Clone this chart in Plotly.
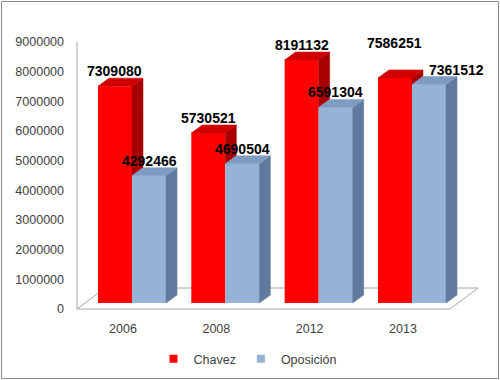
import plotly.graph_objects as go

# ---- data ----
years = ["2006", "2008", "2012", "2013"]
chavez = [7309080, 5730521, 8191132, 7586251]
oposicion = [4292466, 4690504, 6591304, 7361512]
series_names = ["Chavez", "Oposición"]
y_ticks = [0, 1000000, 2000000, 3000000, 4000000, 5000000, 6000000, 7000000, 8000000, 9000000]

# ---- style ----
FRONT = ["#FF0000", "#95B3D7"]
TOP = ["#D00000", "#7E9BC2"]
SIDE = ["#A80000", "#5F7A9E"]
FONT = "Liberation Sans, Arial, sans-serif"
BARGAP = 0.271
HALF = (1 - BARGAP) / 2          # width of one bar in category units
DX = 0.118                        # 3D depth, x (category units)
DY = 0.27e6                       # 3D depth, y (value units)

xs = list(range(len(years)))
values = [chavez, oposicion]

fig = go.Figure()

for s, vals in enumerate(values):
    # front faces
    fig.add_trace(go.Bar(
        x=xs, y=vals, name=series_names[s], marker=dict(color=FRONT[s], line=dict(width=0)),
        showlegend=False, legendgroup=series_names[s], hoverinfo="y",
    ))

for s, vals in enumerate(values):
    tx, ty, sx, sy = [], [], [], []
    for i, v in enumerate(vals):
        xl = i - HALF if s == 0 else i
        xr = xl + HALF
        # top face
        tx += [xl, xl + DX, xr + DX, xr, xl, None]
        ty += [v, v + DY, v + DY, v, v, None]
        # side face (chavez side partly hidden by the oposicion bar in front)
        base = min(v, values[1][i]) if s == 0 else 0
        sx += [xr, xr + DX, xr + DX, xr, xr, None]
        sy += [base, base + DY, v + DY, v, base, None]
    fig.add_trace(go.Scatter(x=sx, y=sy, mode="lines", fill="toself", fillcolor=SIDE[s],
                             line=dict(color=SIDE[s], width=0.5), showlegend=False, hoverinfo="skip"))
    fig.add_trace(go.Scatter(x=tx, y=ty, mode="lines", fill="toself", fillcolor=TOP[s],
                             line=dict(color=TOP[s], width=0.5), showlegend=False, hoverinfo="skip"))

# legend entries
for s in range(2):
    fig.add_trace(go.Scatter(x=[None], y=[None], mode="markers", name=series_names[s],
                             legendgroup=series_names[s],
                             marker=dict(symbol="square", size=8, color=FRONT[s])))

# data labels
label_nudge = {(3, 0): (0, 20), (3, 1): (27, 0)}
annotations = []
for s, vals in enumerate(values):
    for i, v in enumerate(vals):
        nx, ny = label_nudge.get((i, s), (0, 0))
        annotations.append(dict(
            x=i - HALF / 2 if s == 0 else i + HALF / 2, y=v, xref="x", yref="y",
            text=f"{v}", showarrow=False, xanchor="center", yanchor="middle",
            xshift=nx, yshift=15 + ny,
            font=dict(family=FONT, size=14, color="#000000", weight="bold"),
        ))

# pixel geometry helpers (plot area 77..480 x, 36..309 y)
PL, PR, PT, PB = 77, 480, 36, 309
def px(x):
    return (x - PL) / (PR - PL)
def py(y):
    return (PB - y) / (PB - PT)

floor_path = (f"M {px(77)},{py(309)} L {px(450)},{py(309)} L {px(478)},{py(288)} "
              f"L {px(105)},{py(288)} Z")
shapes = [
    dict(type="path", xref="paper", yref="paper", path=floor_path,
         line=dict(color="#A6A6A6", width=1), fillcolor="white", layer="below"),
    dict(type="line", xref="paper", yref="paper", x0=0, x1=0, y0=py(309), y1=py(42),
         line=dict(color="#A6A6A6", width=1), layer="below"),
    dict(type="rect", xref="paper", yref="paper", x0=px(1.5), x1=px(498.5),
         y0=py(378.5), y1=py(1.5), line=dict(color="#8C8C8C", width=1)),
]

fig.update_layout(
    width=500, height=380,
    margin=dict(l=PL, r=500 - PR, t=PT, b=380 - PB, autoexpand=False),
    paper_bgcolor="white", plot_bgcolor="rgba(0,0,0,0)",
    barmode="group", bargap=BARGAP, bargroupgap=0,
    font=dict(family=FONT, size=12, color="#404040"),
    showlegend=True,
    legend=dict(orientation="h", x=px(248), xanchor="center", y=py(359), yanchor="middle",
                font=dict(family=FONT, size=12.5, color="#404040"), itemwidth=30,
                bgcolor="rgba(0,0,0,0)"),
    xaxis=dict(range=[(PL - 132) / 93.33, (PR - 132) / 93.33], tickvals=xs, ticktext=years,
               showgrid=False, zeroline=False, showline=False, ticks="", automargin=False,
               ticklabelshift=-9, ticklabelstandoff=10,
               tickfont=dict(family=FONT, size=12.5, color="#404040"), fixedrange=True),
    yaxis=dict(range=[-0.2022e6, 9.0e6], tickvals=y_ticks, ticktext=[str(t) for t in y_ticks],
               showgrid=False, zeroline=False, showline=False, ticks="", automargin=False,
               ticklabelshift=6, ticklabelstandoff=12,
               tickfont=dict(family=FONT, size=12.5, color="#404040"), fixedrange=True),
    annotations=annotations, shapes=shapes,
)

fig.write_html("out.html", config={"displayModeBar": False},
               post_script="document.body.style.margin='0';")
